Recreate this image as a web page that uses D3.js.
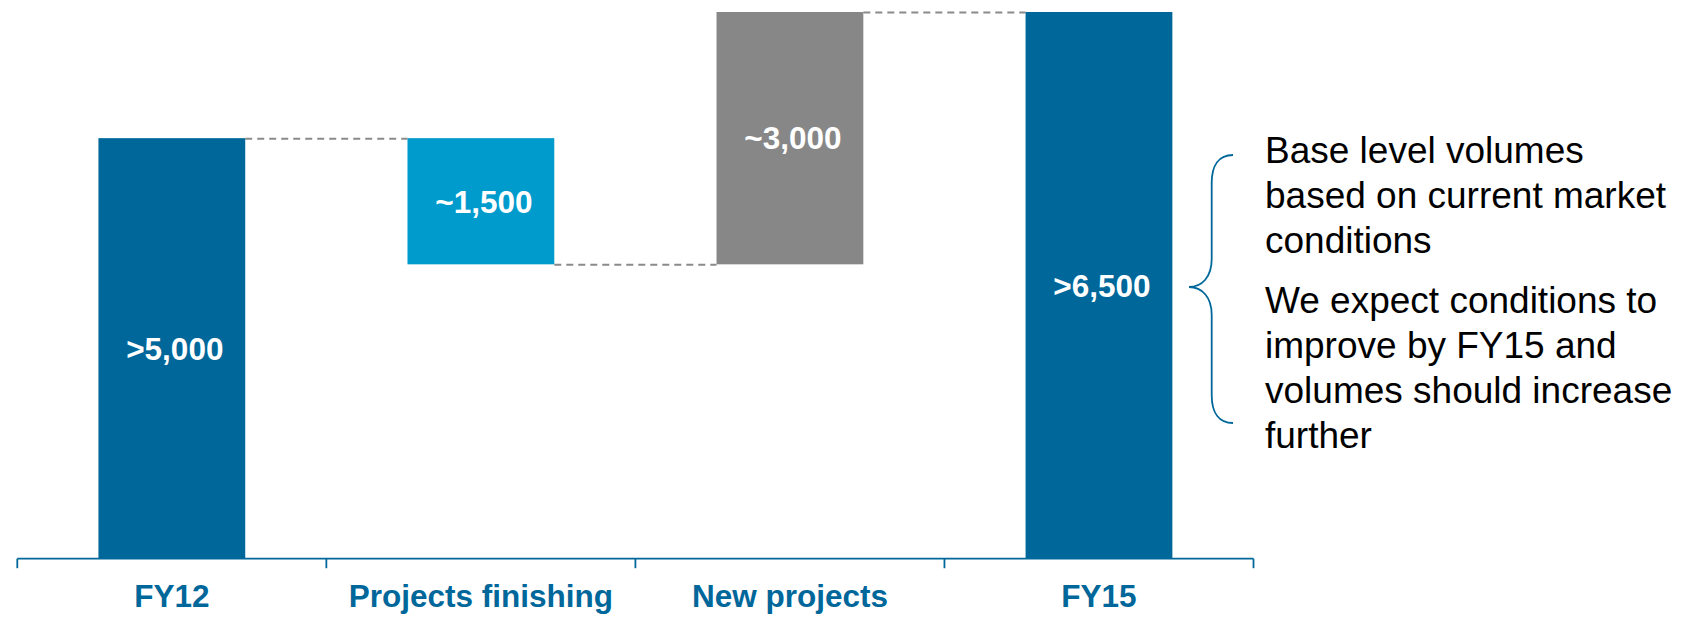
<!DOCTYPE html>
<html>
<head>
<meta charset="utf-8">
<script src="https://cdn.jsdelivr.net/npm/d3@7"></script>
<style>
  html, body { margin: 0; padding: 0; background: #ffffff; }
  svg { display: block; }
  text { font-family: "Liberation Sans", Arial, Helvetica, sans-serif; }
</style>
</head>
<body>
<svg id="chart" width="1681" height="620"></svg>
<script>
// Waterfall: FY12 volume, the change from finishing and new projects, FY15 volume
const categories = ["FY12", "Projects finishing", "New projects", "FY15"];
const values = [5000, -1500, 3000, 6500];          // totals and changes
const barKinds = ["total", "delta", "delta", "total"];
const valueLabels = [">5,000", "~1,500", "~3,000", ">6,500"];
const barColors = ["#00679b", "#009bcd", "#878787", "#00679b"];
const noteParagraphs = [
  ["Base level volumes", "based on current market", "conditions"],
  ["We expect conditions to", "improve by FY15 and", "volumes should increase", "further"]
];

const blue = "#00679b";
const svg = d3.select("#chart");

// Running levels for each bar: start and end on the value axis
let level = 0;
const bars = categories.map((c, i) => {
  let y0, y1;
  if (barKinds[i] === "total") { y0 = 0; y1 = values[i]; }
  else { y0 = level; y1 = level + values[i]; }
  level = y1;
  return { cat: c, y0, y1, label: valueLabels[i], color: barColors[i] };
});

const x = d3.scaleBand()
  .domain(categories)
  .range([17.3, 1253.5])
  .paddingInner(0.525)
  .paddingOuter(0.2625);

const y = d3.scaleLinear()
  .domain([0, 6500])
  .range([558.7, 12]);

const bw = x.bandwidth();

// Dashed connectors between consecutive bars
const conn = svg.append("g");
for (let i = 0; i < bars.length - 1; i++) {
  const yy = y(bars[i].y1) + 0.5;
  conn.append("line")
    .attr("x1", x(bars[i].cat) + bw)
    .attr("x2", x(bars[i + 1].cat))
    .attr("y1", yy).attr("y2", yy)
    .attr("stroke", "#8a8a8a")
    .attr("stroke-width", 2)
    .attr("stroke-dasharray", "7,5");
}

// Bars
svg.append("g").selectAll("rect")
  .data(bars)
  .join("rect")
  .attr("x", d => x(d.cat))
  .attr("width", bw)
  .attr("y", d => y(Math.max(d.y0, d.y1)))
  .attr("height", d => Math.abs(y(d.y0) - y(d.y1)))
  .attr("fill", d => d.color);

// Value labels in the middle of each bar
const valueSize = 31.5;
svg.append("g").selectAll("text")
  .data(bars)
  .join("text")
  .attr("x", d => x(d.cat) + bw / 2 + 3)
  .attr("y", d => (y(d.y0) + y(d.y1)) / 2 + valueSize * 0.358)
  .attr("text-anchor", "middle")
  .attr("fill", "#ffffff")
  .attr("font-weight", "bold")
  .attr("font-size", valueSize)
  .text(d => d.label);

// Category axis: baseline with ticks on the band boundaries
const axisY = y(0);
const boundaries = d3.range(categories.length + 1).map(i => x.range()[0] + i * x.step());
const axis = svg.append("g");
axis.append("line")
  .attr("x1", boundaries[0]).attr("x2", boundaries[boundaries.length - 1])
  .attr("y1", axisY).attr("y2", axisY)
  .attr("stroke", blue).attr("stroke-width", 1.8);
axis.selectAll("line.tick")
  .data(boundaries)
  .join("line")
  .attr("class", "tick")
  .attr("x1", d => d).attr("x2", d => d)
  .attr("y1", axisY).attr("y2", axisY + 9.5)
  .attr("stroke", blue).attr("stroke-width", 1.8);

// Category labels via a bottom axis with hidden ticks and domain
const labelAxis = svg.append("g")
  .attr("transform", `translate(0,${axisY})`)
  .call(d3.axisBottom(x).tickSize(0).tickPadding(0));
labelAxis.select(".domain").remove();
labelAxis.selectAll("text")
  .attr("y", 607 - axisY)
  .attr("dy", null)
  .attr("fill", blue)
  .attr("font-weight", "bold")
  .attr("font-size", 31.5)
  .style("font-family", '"Liberation Sans", Arial, Helvetica, sans-serif');

// Curly brace next to the final bar
const stemX = 1211.7, braceTop = 155, braceTip = 287, braceBottom = 423, tipX = 1189, endX = 1233;
const brace = d3.path();
brace.moveTo(endX, braceTop);
brace.bezierCurveTo(1219, braceTop, stemX, braceTop + 10, stemX, braceTop + 28);
brace.lineTo(stemX, braceTip - 28);
brace.bezierCurveTo(stemX, braceTip - 10, 1202, braceTip, tipX, braceTip);
brace.bezierCurveTo(1202, braceTip, stemX, braceTip + 10, stemX, braceTip + 28);
brace.lineTo(stemX, braceBottom - 28);
brace.bezierCurveTo(stemX, braceBottom - 10, 1219, braceBottom, endX, braceBottom);
svg.append("path")
  .attr("d", brace.toString())
  .attr("fill", "none")
  .attr("stroke", blue)
  .attr("stroke-width", 1.8);

// Notes to the right of the brace
const note = svg.append("g");
const lineGap = 45, paraStarts = [163, 313];
noteParagraphs.forEach((lines, p) => {
  lines.forEach((t, i) => {
    note.append("text")
      .attr("x", 1265)
      .attr("y", paraStarts[p] + i * lineGap)
      .attr("font-size", 37)
      .attr("fill", "#000000")
      .text(t);
  });
});
</script>
</body>
</html>
